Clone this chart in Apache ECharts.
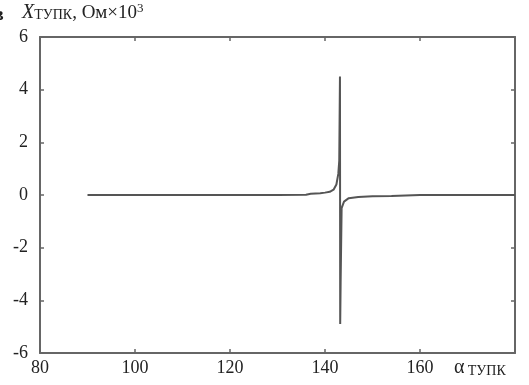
<!DOCTYPE html>
<html>
<head>
<meta charset="utf-8">
<script src="https://cdn.jsdelivr.net/npm/echarts@6/dist/echarts.min.js"></script>
<style>
  html, body { margin: 0; padding: 0; background: #fff; }
  #chart { width: 529px; height: 385px; }
</style>
</head>
<body>
<div id="chart"></div>
<script>
// угол (градусы) и реактивное сопротивление, Ом x 10^3
const alpha = [90, 100, 110, 120, 130, 136, 137, 139, 140, 141, 141.8, 142.4, 142.8, 143.0, 143.15, 143.2, 143.3,
  143.5, 144, 145, 147, 150, 154, 154.3, 160, 170, 180]
const xValues = [0, 0, 0, 0, 0, 0.01, 0.05, 0.07, 0.09, 0.12, 0.2, 0.4, 0.8, 1.3, 4.5, -4.9, -3.2,
  -0.5, -0.25, -0.12, -0.08, -0.05, -0.04, 0, 0, 0, 0]
const xTicks = [80, 100, 120, 140, 160, 180]
const yTicks = [-6, -4, -2, 0, 2, 4, 6]

const myChart = echarts.init(document.getElementById('chart'))
const font = '"Liberation Serif", "DejaVu Serif", serif'
const axisColor = '#666'

const data = alpha.map((a, i) => [a, xValues[i]])

const baseAxis = {
  axisLine: { show: true, onZero: false, lineStyle: { color: axisColor, width: 2 } },
  axisTick: { show: true, inside: true, length: 4, lineStyle: { color: axisColor, width: 1.5 } },
  splitLine: { show: false }
}

const option = {
  animation: false,
  grid: { left: 40, right: 14, top: 37, bottom: 32 },
  xAxis: [
    {
      ...baseAxis,
      type: 'value',
      min: xTicks[0],
      max: xTicks[xTicks.length - 1],
      interval: 20,
      axisLabel: {
        color: '#222', fontFamily: font, fontSize: 18, margin: 6,
        formatter: v => (v === 180 ? '' : String(v))
      }
    },
    {
      ...baseAxis,
      type: 'value',
      position: 'top',
      min: xTicks[0],
      max: xTicks[xTicks.length - 1],
      interval: 20,
      axisLabel: { show: false }
    }
  ],
  yAxis: [
    {
      ...baseAxis,
      type: 'value',
      min: yTicks[0],
      max: yTicks[yTicks.length - 1],
      interval: 2,
      axisLabel: { color: '#222', fontFamily: font, fontSize: 18, margin: 12 }
    },
    {
      ...baseAxis,
      type: 'value',
      position: 'right',
      min: yTicks[0],
      max: yTicks[yTicks.length - 1],
      interval: 2,
      axisLabel: { show: false }
    }
  ],
  graphic: [
    {
      type: 'text', left: -6, top: 6,
      style: { text: 'в', font: 'bold 18px ' + font, fill: '#222' }
    },
    {
      type: 'text', left: 22, top: 2,
      style: {
        text: '{i|X}{s|ТУПК}{n|, Ом×10}{sup|3}',
        rich: {
          i: { fontFamily: font, fontStyle: 'italic', fontSize: 20, fill: '#222', verticalAlign: 'bottom' },
          s: { fontFamily: font, fontSize: 14, fill: '#222', verticalAlign: 'bottom', padding: [0, 0, 1, 0] },
          n: { fontFamily: font, fontSize: 19, fill: '#222', verticalAlign: 'bottom' },
          sup: { fontFamily: font, fontSize: 13, fill: '#222', verticalAlign: 'top', padding: [0, 0, 8, 0] }
        }
      }
    },
    {
      type: 'text', left: 454, top: 358,
      style: {
        text: '{a|α} {s|ТУПК}',
        rich: {
          a: { fontFamily: font, fontSize: 20, fill: '#222', verticalAlign: 'bottom' },
          s: { fontFamily: font, fontSize: 14, fill: '#222', verticalAlign: 'bottom' }
        }
      }
    }
  ],
  series: [
    {
      type: 'line',
      data: data,
      showSymbol: false,
      smooth: false,
      lineStyle: { color: '#555', width: 2 }
    }
  ]
}

myChart.setOption(option)
</script>
</body>
</html>
